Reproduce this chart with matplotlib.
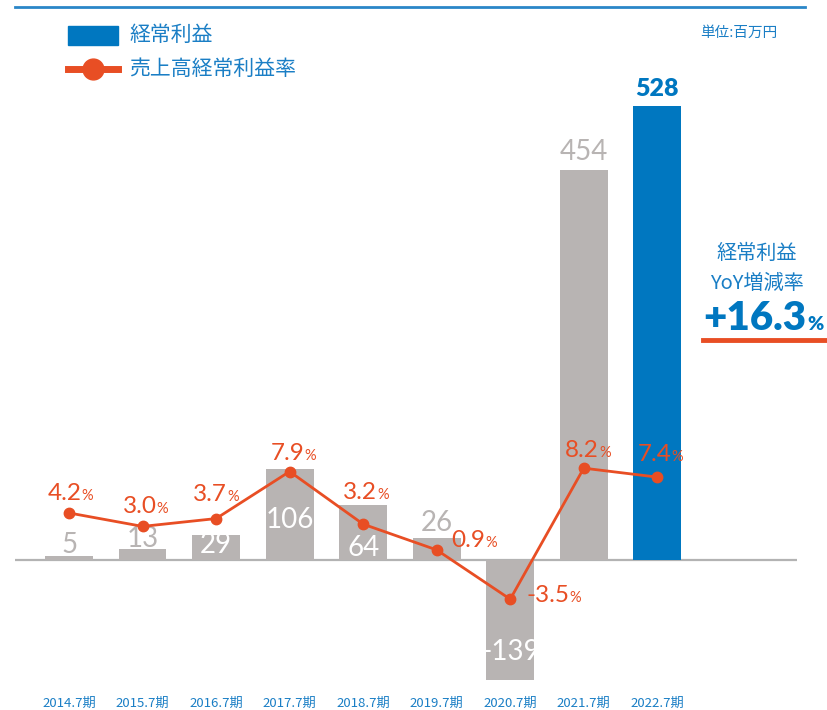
import matplotlib
matplotlib.use("Agg")
import matplotlib.pyplot as plt
from matplotlib.patches import Rectangle
from matplotlib.lines import Line2D
from matplotlib.offsetbox import TextArea, HPacker, AnnotationBbox

plt.rcParams['font.family'] = ['Noto Sans CJK JP', 'DejaVu Sans']

# ---- data ----
periods = ["2014.7期", "2015.7期", "2016.7期", "2017.7期", "2018.7期",
           "2019.7期", "2020.7期", "2021.7期", "2022.7期"]
ordinary_profit = [5, 13, 29, 106, 64, 26, -139, 454, 528]
margin_pct = [4.2, 3.0, 3.7, 7.9, 3.2, 0.9, -3.5, 8.2, 7.4]
yoy_change = "+16.3"

# ---- styling ----
BLUE = "#0077c0"
TXT_BLUE = "#1a7ec5"
GRAY = "#b8b4b3"
ORANGE = "#e84e24"
NUM_FONT = ["Lato", "DejaVu Sans"]

W, H = 827, 710
fig = plt.figure(figsize=(W / 100, H / 100), dpi=100)


def fx(px):
    return px / W


def fy(py):
    return 1 - py / H


PX = 0.72  # points per pixel at 100 dpi

# axes spanning the plotting band; zero line at y=560 px
ax_top, ax_bot = 80, 685
zero_px = 560
bar_scale = 0.86     # px per million yen
pct_scale = 11.2     # px per percent
ax = fig.add_axes([fx(15), fy(ax_bot), fx(797) - fx(15), (ax_bot - ax_top) / H])
ax.set_xlim(-0.735, 9.9)
ax.set_ylim(-(ax_bot - zero_px) / bar_scale, (zero_px - ax_top) / bar_scale)
ax2 = ax.twinx()
ax2.set_ylim(-(ax_bot - zero_px) / pct_scale, (zero_px - ax_top) / pct_scale)

for a in (ax, ax2):
    for s in a.spines.values():
        s.set_visible(False)
    a.set_yticks([])
    a.patch.set_alpha(0)

x = list(range(len(periods)))
colors = [GRAY] * (len(periods) - 1) + [BLUE]
ax.bar(x, ordinary_profit, width=0.65, color=colors, zorder=2)
ax.axhline(0, color="#b3b3b3", lw=1.6, zorder=1)

ax.set_xticks(x)
ax.set_xticklabels(periods, fontsize=9.5, color=TXT_BLUE)
ax.tick_params(axis="x", length=0, pad=8.5)

# bar value labels: (vertical offset of text centre from bar end in px, colour)
bar_label_style = [(11, GRAY), (10, GRAY), (-10, "white"), (-51, "white"),
                   (-43, "white"), (15, GRAY), (28, "white"), (18, GRAY),
                   (17, BLUE)]
for i, (v, (dy, col)) in enumerate(zip(ordinary_profit, bar_label_style)):
    last = i == len(ordinary_profit) - 1
    ax.annotate(str(v), (i, v), xytext=(0, dy * PX), textcoords="offset points",
                ha="center", va="center", color=col, zorder=4,
                fontsize=18 if last else 20,
                fontweight="heavy" if last else "normal",
                family=NUM_FONT)

# margin line
ax2.plot(x, margin_pct, color=ORANGE, lw=2, marker="o", ms=7.5, zorder=5)

# percent labels: (dx, dy) offset in px of box anchor, box alignment
pct_label_pos = [((1, 9), (0.5, 0)), ((3, 9), (0.5, 0)), ((0, 14), (0.5, 0)),
                 ((4, 8), (0.5, 0)), ((3, 21), (0.5, 0)), ((15, 9), (0, 0.5)),
                 ((16, 4), (0, 0.5)), ((4, 7), (0.5, 0)), ((3, 12), (0.5, 0))]
for i, (v, ((dx, dy), align)) in enumerate(zip(margin_pct, pct_label_pos)):
    num = TextArea(f"{v:.1f}", textprops=dict(color=ORANGE, fontsize=17.5,
                                             family=NUM_FONT))
    pc = TextArea("%", textprops=dict(color=ORANGE, fontsize=10.5,
                                      family=NUM_FONT))
    box = HPacker(children=[num, pc], align="baseline", pad=0, sep=0)
    ab = AnnotationBbox(box, (i, v), xycoords=ax2.transData,
                        xybox=(dx * PX, dy * PX), boxcoords="offset points",
                        box_alignment=align, frameon=False, pad=0, zorder=6)
    ax2.add_artist(ab)

# top rule
fig.add_artist(Line2D([fx(15), fx(805)], [fy(7), fy(7)], color="#2a86c8",
                      lw=2, transform=fig.transFigure))

# legend
fig.add_artist(Rectangle((fx(68), fy(45)), fx(118) - fx(68), (45 - 26) / H,
                         color=BLUE, transform=fig.transFigure))
fig.text(fx(129), fy(35), "経常利益", color=TXT_BLUE, fontsize=15,
         va="center", ha="left")
fig.add_artist(Line2D([fx(68), fx(118)], [fy(69), fy(69)], color=ORANGE,
                      lw=5, transform=fig.transFigure))
fig.add_artist(Line2D([fx(93)], [fy(69)], color=ORANGE, marker="o", ms=15,
                      transform=fig.transFigure))
fig.text(fx(129), fy(69), "売上高経常利益率", color=TXT_BLUE, fontsize=15,
         va="center", ha="left")
fig.text(fx(777), fy(33), "単位:百万円", color=TXT_BLUE, fontsize=10.5,
         va="center", ha="right")

# YoY callout
fig.text(fx(757), fy(253), "経常利益", color=TXT_BLUE, fontsize=14.5,
         va="center", ha="center")
fig.text(fx(757), fy(283), "YoY増減率", color=TXT_BLUE, fontsize=14.5,
         va="center", ha="center")
big = TextArea(yoy_change, textprops=dict(color=BLUE, fontsize=29,
                                          fontweight="heavy",
                                          family=NUM_FONT))
bigp = TextArea("%", textprops=dict(color=BLUE, fontsize=14, fontweight="heavy",
                                    family=NUM_FONT))
bbox = HPacker(children=[big, bigp], align="baseline", pad=0, sep=1)
fig.add_artist(AnnotationBbox(bbox, (fx(703), fy(318)), xycoords="figure fraction",
                              box_alignment=(0, 0.5), frameon=False, pad=0))
fig.add_artist(Line2D([fx(703), fx(827)], [fy(340), fy(340)], color=ORANGE,
                      lw=3.5, transform=fig.transFigure))

fig.savefig("out.png", dpi=100)
